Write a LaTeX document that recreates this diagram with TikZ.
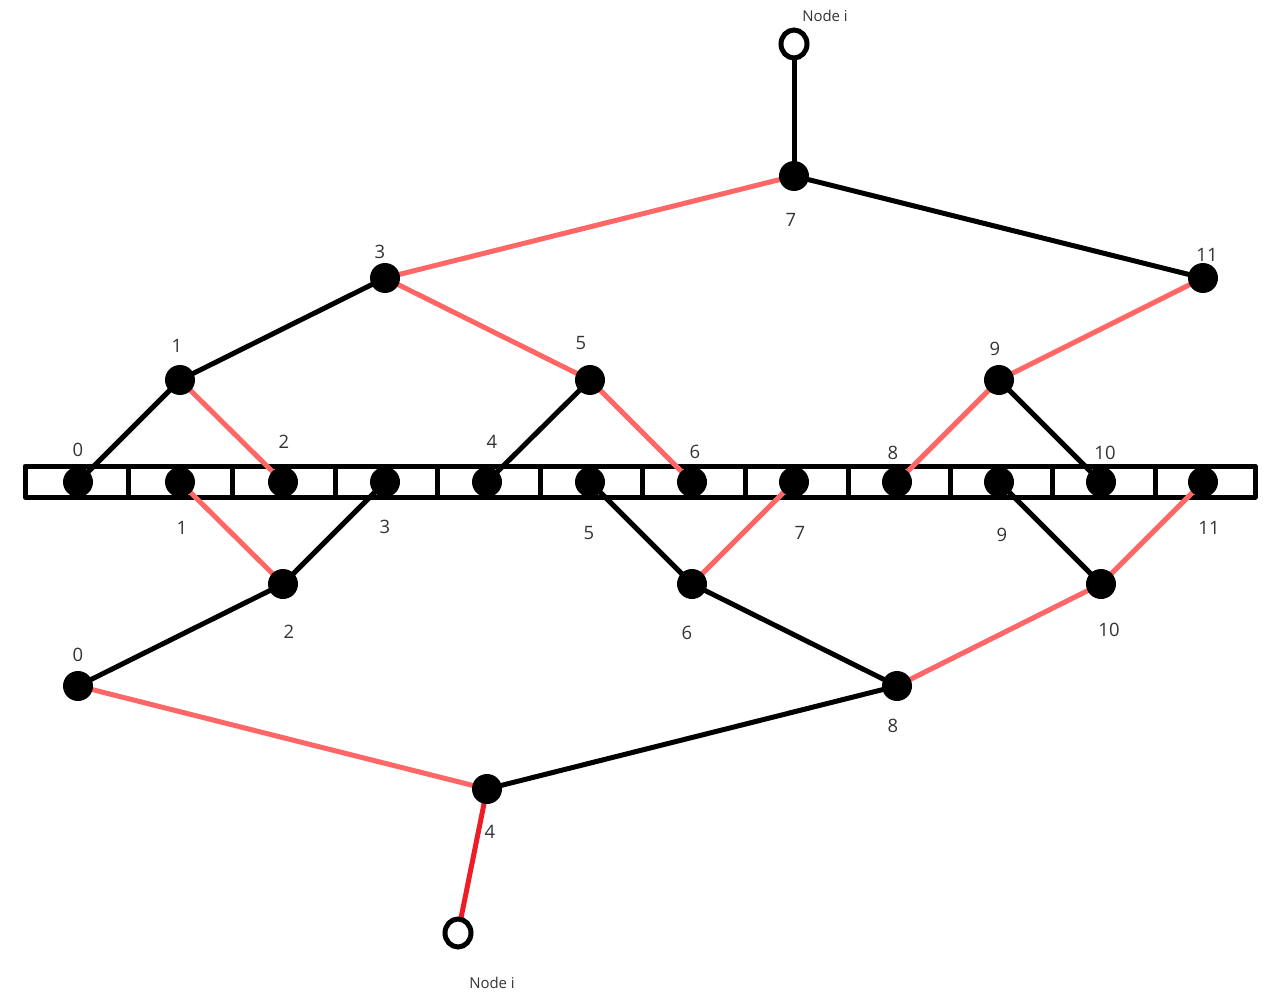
\documentclass[tikz,border=0pt]{standalone}
\usepackage{fontspec}
\usetikzlibrary{shapes.geometric}
\setmainfont{Open Sans}
\begin{document}
\begin{tikzpicture}[x=0.02cm,y=-0.02cm,
  dot/.style={circle,fill=black,inner sep=0pt,minimum size=30\pxu},
  hollow/.style={ellipse,draw=black,line width=5\pxu,fill=white,inner sep=0pt,minimum width=26\pxu,minimum height=28\pxu},
  blk/.style={draw=black,line width=5\pxu},
  sal/.style={draw=salmon,line width=5\pxu},
  brd/.style={draw=brightred,line width=5\pxu},
  lab/.style={text=labgray,font=\fontsize{10.5pt}{12pt}\selectfont,inner sep=0pt},
  nlab/.style={text=labgray,font=\fontsize{8.5pt}{10pt}\selectfont,inner sep=0pt},
  cell/.style={draw=black,line width=5\pxu,line join=round}
]
\def\pxu{*0.02cm}
\definecolor{salmon}{HTML}{FF6666}
\definecolor{brightred}{HTML}{EE1C25}
\definecolor{labgray}{HTML}{333333}
\useasboundingbox (0,0) rectangle (1279,1007);
% array
\draw[cell] (25,466) rectangle (1255,497);
\foreach \x in {128,232,335,437,540,642,745,848,950,1052,1155}
  \draw[cell] (\x,466) -- (\x,497);
% nodes
\foreach \i/\x in {0/78,1/180,2/283,3/385,4/487,5/590,6/692,7/794,8/897,9/999,10/1101,11/1203}
  \coordinate (L\i) at (\x,482);
\coordinate (T7) at (794,176);
\coordinate (T3) at (385,278);
\coordinate (T11) at (1203,278);
\coordinate (T1) at (180,380);
\coordinate (T5) at (590,380);
\coordinate (T9) at (999,380);
\coordinate (B2) at (283,584);
\coordinate (B6) at (692,584);
\coordinate (B10) at (1101,584);
\coordinate (B0) at (78,686);
\coordinate (B8) at (897,686);
\coordinate (B4) at (487,789);
\coordinate (NT) at (794,44);
\coordinate (NB) at (458,933);
% edges top tree
\draw[blk] (T7) -- (NT);
\draw[sal] (T7) -- (T3);
\draw[blk] (T7) -- (T11);
\draw[blk] (T3) -- (T1);
\draw[sal] (T3) -- (T5);
\draw[sal] (T11) -- (T9);
\draw[blk] (T1) -- (L0);
\draw[sal] (T1) -- (L2);
\draw[blk] (T5) -- (L4);
\draw[sal] (T5) -- (L6);
\draw[sal] (T9) -- (L8);
\draw[blk] (T9) -- (L10);
% edges bottom tree
\draw[sal] (L1) -- (B2);
\draw[blk] (L3) -- (B2);
\draw[blk] (L5) -- (B6);
\draw[sal] (L7) -- (B6);
\draw[blk] (L9) -- (B10);
\draw[sal] (L11) -- (B10);
\draw[blk] (B2) -- (B0);
\draw[blk] (B6) -- (B8);
\draw[sal] (B10) -- (B8);
\draw[sal] (B0) -- (B4);
\draw[blk] (B8) -- (B4);
\draw[brd] (B4) -- (NB);
% dots
\foreach \n in {L0,L1,L2,L3,L4,L5,L6,L7,L8,L9,L10,L11,T7,T3,T11,T1,T5,T9,B2,B6,B10,B0,B8,B4}
  \node[dot] (d\n) at (\n) {};
\node[hollow] (nt) at (NT) {};
\node[hollow] (nb) at (NB) {};
% labels
\node[nlab] (ntl) at (825,16) {Node i};
\node[nlab] (nbl) at (492,983) {Node i};
\node[lab] at (791,220) {7};
\node[lab] at (380,252) {3};
\node[lab] at (1207,255) {11};
\node[lab] at (177,346) {1};
\node[lab] at (581,343) {5};
\node[lab] at (995,349) {9};
\node[lab] at (78,450) {0};
\node[lab] at (284,442) {2};
\node[lab] at (492,442) {4};
\node[lab] at (695,452) {6};
\node[lab] at (893,453) {8};
\node[lab] at (1105,453) {10};
\node[lab] at (182,528) {1};
\node[lab] at (385,527) {3};
\node[lab] at (589,533) {5};
\node[lab] at (800,533) {7};
\node[lab] at (1002,535) {9};
\node[lab] at (1209,528) {11};
\node[lab] at (289,632) {2};
\node[lab] at (687,633) {6};
\node[lab] at (1109,630) {10};
\node[lab] at (78,655) {0};
\node[lab] at (893,726) {8};
\node[lab] at (490,832) {4};
\end{tikzpicture}
\end{document}
